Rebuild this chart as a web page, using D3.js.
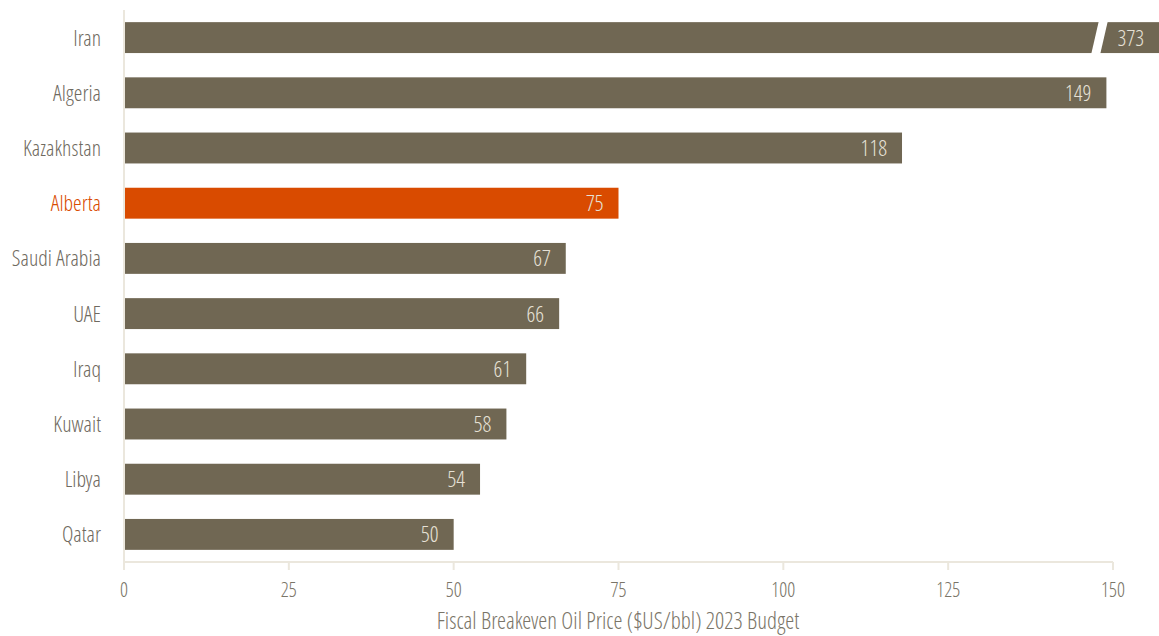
<!DOCTYPE html>
<html><head><meta charset="utf-8">
<script src="https://cdn.jsdelivr.net/npm/d3@7"></script>
<style>
body{margin:0;background:#fff;}
svg text{font-family:"Open Sans Condensed Light","Open Sans",sans-serif;font-stretch:75%;font-weight:300;}
</style></head>
<body><svg id="c" width="1159" height="636"></svg>
<script>
const categories=["Iran","Algeria","Kazakhstan","Alberta","Saudi Arabia","UAE","Iraq","Kuwait","Libya","Qatar"];
const values=[373,149,118,75,67,66,61,58,54,50];
const highlight="Alberta";
const ticks=[0,25,50,75,100,125,150];
const axisTitle="Fiscal Breakeven Oil Price ($US/bbl) 2023 Budget";

const svg=d3.select("#c");
const x=d3.scaleLinear().domain([0,150]).range([124,1113]);
const y=d3.scaleBand().domain(categories).range([10,562]).paddingInner(0.44).paddingOuter(0.22);
const barColor="#706753", hiColor="#d94b00", axisColor="#ebe7dd";

const maxX=1159;
svg.selectAll("rect.bar").data(categories).join("rect").attr("class","bar")
 .attr("x",x(0)).attr("y",d=>y(d)).attr("height",y.bandwidth())
 .attr("width",(d,i)=>Math.min(x(values[i]),maxX)-x(0))
 .attr("fill",d=>d===highlight?hiColor:barColor);

svg.append("line").attr("x1",124).attr("x2",124).attr("y1",10).attr("y2",562).attr("stroke",axisColor).attr("stroke-width",2);

categories.forEach((d,i)=>{
  if(values[i]>150){
    const y0=y(d)-2,y1=y(d)+y.bandwidth()+2;
    svg.append("polygon").attr("points",`${1099},${y0} ${1108},${y0} ${1100},${y1} ${1091},${y1}`).attr("fill","#fff");
  }
});

svg.selectAll("text.val").data(categories).join("text").attr("class","val")
 .attr("x",(d,i)=>Math.min(x(values[i]),maxX)-15)
 .attr("y",d=>y(d)+y.bandwidth()/2).attr("dy","0.36em")
 .attr("text-anchor","end").attr("fill","#e6e1d6").attr("font-size",22)
 .text((d,i)=>values[i]);

svg.selectAll("text.cat").data(categories).join("text").attr("class","cat")
 .attr("x",101).attr("y",d=>y(d)+y.bandwidth()/2).attr("dy","0.36em")
 .attr("text-anchor","end").attr("font-size",22)
 .attr("fill",d=>d===highlight?hiColor:"#6f6a60").text(d=>d);

svg.append("line").attr("x1",124).attr("x2",1113).attr("y1",562).attr("y2",562).attr("stroke",axisColor).attr("stroke-width",2);
svg.selectAll("line.tick").data(ticks).join("line").attr("class","tick")
 .attr("x1",d=>x(d)).attr("x2",d=>x(d)).attr("y1",562).attr("y2",570).attr("stroke",axisColor).attr("stroke-width",2);
svg.selectAll("text.tick").data(ticks).join("text").attr("class","tick")
 .attr("x",d=>x(d)).attr("y",597).attr("text-anchor","middle").attr("font-size",20).attr("fill","#7a7568").text(d=>d);
svg.append("text").attr("x",618).attr("y",629).attr("text-anchor","middle").attr("font-size",23).attr("fill","#7a7568").text(axisTitle);
</script></body></html>
